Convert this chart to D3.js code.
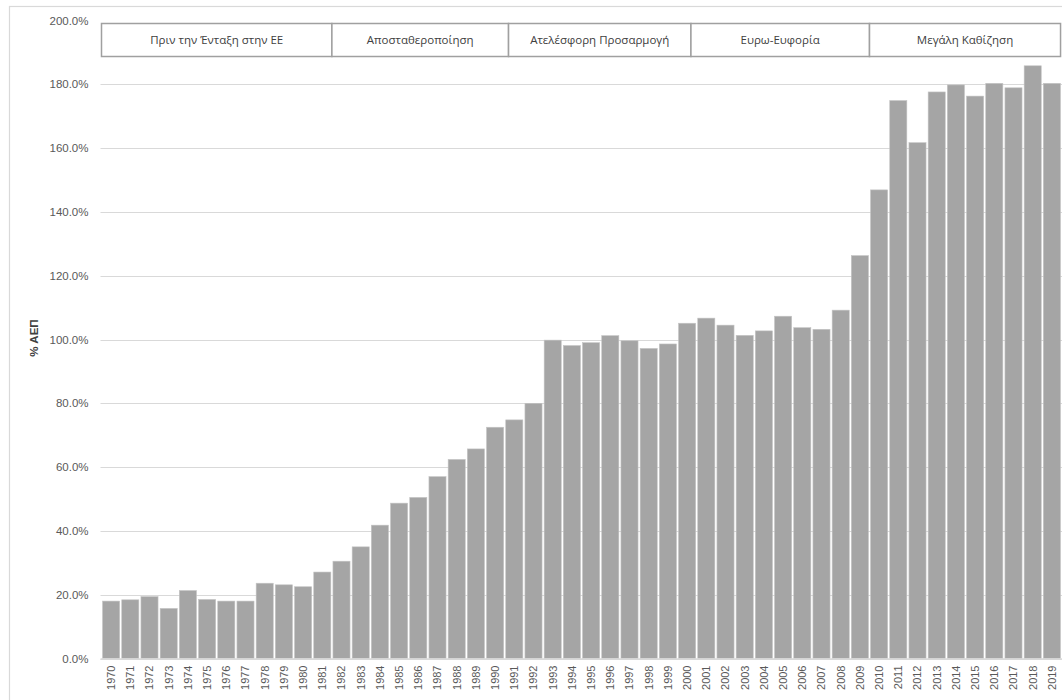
<!DOCTYPE html>
<html>
<head>
<meta charset="utf-8">
<script src="https://cdn.jsdelivr.net/npm/d3@7"></script>
<style>
  html, body { margin: 0; padding: 0; background: #fff; }
  svg { display: block; font-family: "Liberation Sans", Arial, sans-serif; }
</style>
</head>
<body>
<svg id="chart" width="1062" height="700"></svg>
<script>
const years = d3.range(1970, 2020).map(String);
const debtPct = [
  18.0, 18.4, 19.4, 15.7, 21.3, 18.5, 18.0, 18.0, 23.6, 23.1,
  22.5, 27.1, 30.5, 35.0, 41.8, 48.7, 50.5, 57.0, 62.4, 65.7,
  72.5, 74.8, 80.0, 99.8, 98.1, 99.0, 101.2, 99.6, 97.2, 98.6,
  105.1, 106.7, 104.5, 101.3, 102.7, 107.3, 103.7, 103.2, 109.2, 126.3,
  146.9, 174.9, 161.7, 177.6, 179.8, 176.3, 180.3, 178.9, 185.8, 180.3
];
const yTicks = [0, 20, 40, 60, 80, 100, 120, 140, 160, 180, 200];
const periodNames = ["Πριν την Ένταξη στην ΕΕ", "Αποσταθεροποίηση", "Ατελέσφορη Προσαρμογή", "Ευρω-Ευφορία", "Μεγάλη Καθίζηση"];
const periodStart = [1970, 1982, 1991.2, 2000.7, 2010];
const periodEnd   = [1982, 1991.2, 2000.7, 2010, 2019.95];
const yLabel = "% ΑΕΠ";

const svg = d3.select("#chart");
const W = 1062, H = 700;
const m = { left: 101.5, right: 0.5, top: 20.5, bottom: 41.5 };

// outer frame
svg.append("rect").attr("x", 9.5).attr("y", 6.5).attr("width", 1070).attr("height", 720)
  .attr("fill", "none").attr("stroke", "#d9d9d9").attr("stroke-width", 1.2);

const x = d3.scaleBand().domain(years).range([m.left, W - m.right]).paddingInner(0.11).paddingOuter(0.055);
const y = d3.scaleLinear().domain([0, 200]).range([H - m.bottom, m.top]);
const step = x.step();
const x0 = x.range()[0];
const xYear = v => x0 + (v - 1970) * step;

// gridlines + y labels
const yAxis = d3.axisLeft(y).tickValues(yTicks).tickFormat(d => d3.format(".1f")(d) + "%").tickSize(0).tickPadding(12);
const gy = svg.append("g").attr("transform", `translate(${m.left - 1},0)`).call(yAxis);
gy.select(".domain").remove();
gy.selectAll("text").attr("fill", "#595959").style("font-size", "11.5px");
svg.append("g").selectAll("line").data(yTicks.filter(d => d < 200)).join("line")
  .attr("x1", m.left - 1).attr("x2", W).attr("y1", d => Math.round(y(d)) + 0.5).attr("y2", d => Math.round(y(d)) + 0.5)
  .attr("stroke", "#d9d9d9").attr("stroke-width", 1.2);

// bars
svg.append("g").selectAll("rect").data(years).join("rect")
  .attr("x", d => x(d)).attr("width", x.bandwidth())
  .attr("y", (d, i) => y(debtPct[i])).attr("height", (d, i) => y(0) - y(debtPct[i]))
  .attr("fill", "#a5a5a5").attr("stroke", "#c4c4c4").attr("stroke-width", 0.6);

// axis line at 0
svg.append("line").attr("x1", m.left - 1).attr("x2", W).attr("y1", y(0) + 0.5).attr("y2", y(0) + 0.5)
  .attr("stroke", "#d9d9d9").attr("stroke-width", 1.5);

// x labels
const xAxis = d3.axisBottom(x).tickSize(0).tickPadding(0);
const gx = svg.append("g").attr("transform", `translate(0,${y(0)})`).call(xAxis);
gx.select(".domain").remove();
gx.selectAll("text")
  .attr("transform", "rotate(-90)")
  .attr("x", -7).attr("y", 0).attr("dy", "0.35em")
  .attr("text-anchor", "end")
  .attr("fill", "#595959").style("font-size", "11px");

// y title
svg.append("text").attr("transform", `translate(38,338) rotate(-90)`)
  .attr("text-anchor", "middle").attr("fill", "#404040").style("font-size", "11.5px").style("font-weight", "bold")
  .text(yLabel);

// period boxes
const boxTop = 23.5, boxBot = 56.5;
const pg = svg.append("g");
pg.selectAll("rect").data(periodNames).join("rect")
  .attr("x", (d, i) => xYear(periodStart[i]))
  .attr("width", (d, i) => xYear(periodEnd[i]) - xYear(periodStart[i]))
  .attr("y", boxTop).attr("height", boxBot - boxTop)
  .attr("fill", "#fff").attr("stroke", "#a0a0a0").attr("stroke-width", 1.5);
pg.selectAll("text").data(periodNames).join("text")
  .attr("x", (d, i) => (xYear(periodStart[i]) + xYear(periodEnd[i])) / 2)
  .attr("y", (boxTop + boxBot) / 2).attr("dy", "0.35em")
  .attr("text-anchor", "middle").attr("fill", "#404040")
  .style("font-family", "'Open Sans', sans-serif").style("font-size", "11.5px")
  .text(d => d);
</script>
</body>
</html>
